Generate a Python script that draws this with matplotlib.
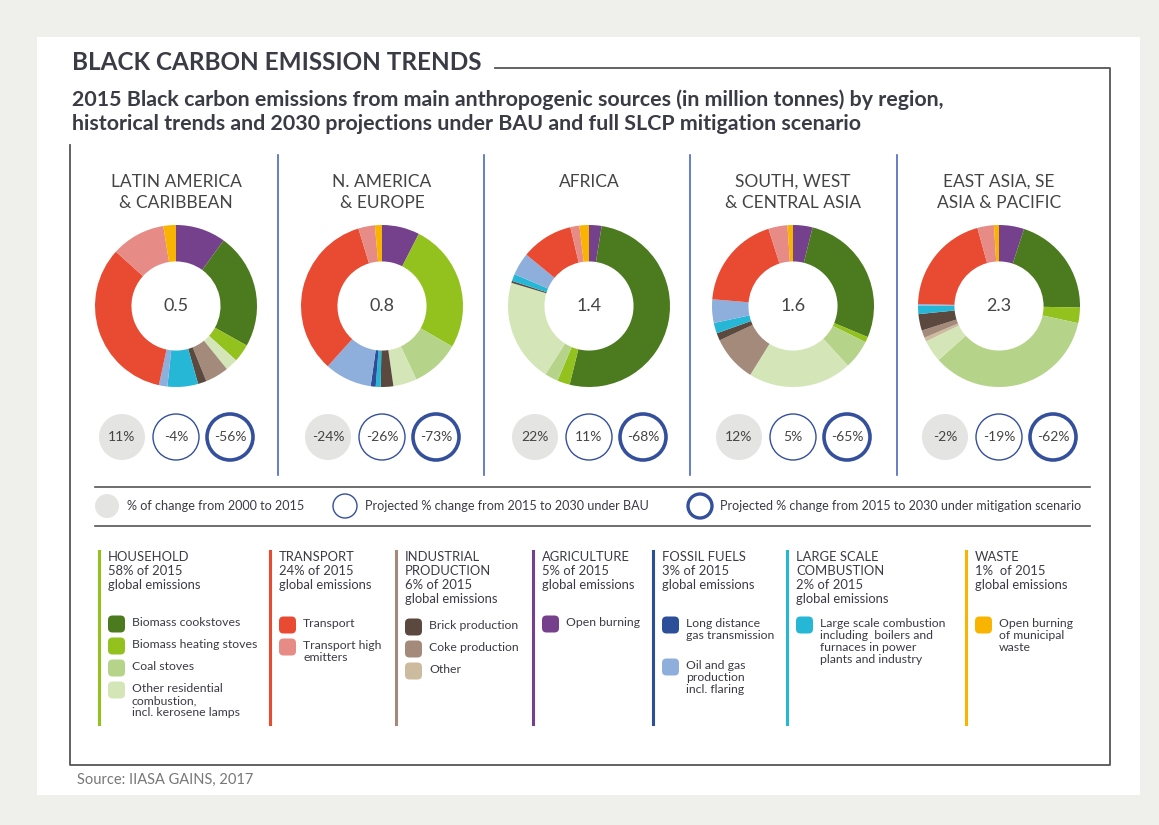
import matplotlib.pyplot as plt
from matplotlib.patches import Circle, FancyBboxPatch, Rectangle

plt.rcParams['font.family'] = ['Lato', 'DejaVu Sans']

# --- data ---------------------------------------------------------------
regions = ['LATIN AMERICA\n& CARIBBEAN', 'N. AMERICA\n& EUROPE', 'AFRICA',
           'SOUTH, WEST\n& CENTRAL ASIA', 'EAST ASIA, SE\nASIA & PACIFIC']
totals = ['0.5', '0.8', '1.4', '1.6', '2.3']
change_2000_2015 = ['11%', '-24%', '22%', '12%', '-2%']
change_bau = ['-4%', '-26%', '11%', '5%', '-19%']
change_mitigation = ['-56%', '-73%', '-68%', '-65%', '-62%']

# sources, in the clockwise order of the donuts (from 12 o'clock)
sources = ['Open burning', 'Biomass cookstoves', 'Biomass heating stoves', 'Coal stoves',
           'Other residential', 'Other industry', 'Coke production', 'Brick production',
           'Large scale combustion', 'Long distance gas transmission', 'Oil and gas production',
           'Transport', 'Transport high emitters', 'Waste']

# share of each source in the regional total (%)
share_latam  = [10.0, 23.1, 3.6, 0.0, 2.5, 0.0, 4.7, 1.7, 6.1, 0.0, 1.7, 33.3, 10.8, 2.5]
share_nameur = [7.5, 0.0, 25.8, 9.7, 4.7, 0.0, 0.0, 2.5, 1.0, 1.0, 9.4, 33.6, 3.3, 1.4]
share_africa = [2.5, 51.4, 2.5, 2.7, 20.6, 0.0, 0.0, 0.4, 1.4, 0.0, 4.5, 10.4, 1.8, 1.9]
share_swcasia = [3.9, 27.4, 1.1, 5.8, 20.7, 0.0, 9.2, 1.5, 2.1, 0.0, 4.7, 18.8, 3.8, 1.1]
share_easia  = [5.0, 20.3, 3.1, 35.0, 4.4, 0.8, 1.5, 3.3, 1.7, 0.0, 0.3, 20.3, 3.3, 1.0]
shares = [share_latam, share_nameur, share_africa, share_swcasia, share_easia]

# legend groups
group_heads = ['HOUSEHOLD\n58% of 2015\nglobal emissions',
               'TRANSPORT\n24% of 2015\nglobal emissions',
               'INDUSTRIAL\nPRODUCTION\n6% of 2015\nglobal emissions',
               'AGRICULTURE\n5% of 2015\nglobal emissions',
               'FOSSIL FUELS\n3% of 2015\nglobal emissions',
               'LARGE SCALE\nCOMBUSTION\n2% of 2015\nglobal emissions',
               'WASTE\n1%  of 2015\nglobal emissions']
group_items = [
    ['Biomass cookstoves', 'Biomass heating stoves', 'Coal stoves',
     'Other residential\ncombustion,\nincl. kerosene lamps'],
    ['Transport', 'Transport high\nemitters'],
    ['Brick production', 'Coke production', 'Other'],
    ['Open burning'],
    ['Long distance\ngas transmission', 'Oil and gas\nproduction\nincl. flaring'],
    ['Large scale combustion\nincluding  boilers and\nfurnaces in power\nplants and industry'],
    ['Open burning\nof municipal\nwaste'],
]

# --- styles -------------------------------------------------------------
src_colors = ['#76418c', '#4b7a1f', '#93c11e', '#b6d489', '#d4e6b8', '#cdbb9f', '#a38a7a',
              '#5b493f', '#27b7d6', '#2d4f9a', '#8eafdc', '#e84b32', '#e68b85', '#f8b400']
group_colors = ['#93c11e', '#e84b32', '#a38a7a', '#76418c', '#2d4f9a', '#27b7d6', '#f8b400']
item_colors = [['#4b7a1f', '#93c11e', '#b6d489', '#d4e6b8'], ['#e84b32', '#e68b85'],
               ['#5b493f', '#a38a7a', '#cdbb9f'], ['#76418c'], ['#2d4f9a', '#8eafdc'],
               ['#27b7d6'], ['#f8b400']]
item_y = [[624, 646, 668, 690], [625, 647], [627, 649, 671], [624], [625, 667], [625], [625]]
group_x = [99, 270, 396, 533, 653, 787, 966]

TXT = '#3b3b45'
BLUE = '#344f9c'
W, H = 1159, 825
centers = [176, 382, 589, 793, 999]
cy, R = 306, 81

fig = plt.figure(figsize=(W / 100, H / 100), dpi=100)
fig.patch.set_facecolor('#efefeb')
ax = fig.add_axes([0, 0, 1, 1])
ax.set_xlim(0, W)
ax.set_ylim(H, 0)
ax.axis('off')

ax.add_patch(Rectangle((37, 37), 1103, 758, facecolor='white', edgecolor='none'))
ax.plot([495, 1110, 1110, 70, 70], [68, 68, 765, 765, 145], color='#555555', lw=1.3)

ax.text(72, 63, 'BLACK CARBON EMISSION TRENDS', fontsize=17.5, fontweight='bold',
        color=TXT, va='center')
ax.text(72, 112, '2015 Black carbon emissions from main anthropogenic sources (in million tonnes) '
        'by region,\nhistorical trends and 2030 projections under BAU and full SLCP mitigation scenario',
        fontsize=15.4, fontweight='bold', color=TXT, va='center', linespacing=1.23)

# separators between regions
for x in [278, 484, 690, 897]:
    ax.plot([x, x], [155, 475], color='#4a68c0', lw=1.2)

for i, cx in enumerate(centers):
    if '\n' in regions[i]:
        ax.text(cx, 192.5, regions[i], ha='center', va='center', fontsize=12.5, color='#444444',
                linespacing=1.4)
    else:
        ax.text(cx, 182, regions[i], ha='center', va='center', fontsize=12.5, color='#444444')

    axp = fig.add_axes([(cx - R) / W, 1 - (cy + R) / H, 2 * R / W, 2 * R / H])
    axp.pie(shares[i], colors=src_colors, startangle=90, counterclock=False,
            wedgeprops=dict(width=0.45, linewidth=0))
    axp.set_xlim(-1, 1)
    axp.set_ylim(-1, 1)
    axp.text(0, 0, totals[i], ha='center', va='center', fontsize=13, color='#444444')

    ax.add_patch(Circle((cx - 54, 437), 23, facecolor='#e4e4e2', edgecolor='none'))
    ax.add_patch(Circle((cx, 437), 23, facecolor='white', edgecolor=BLUE, lw=1.0))
    ax.add_patch(Circle((cx + 54, 437), 23, facecolor='white', edgecolor=BLUE, lw=2.6))
    for dx, t in zip([-54, 0, 54], [change_2000_2015[i], change_bau[i], change_mitigation[i]]):
        ax.text(cx + dx, 437, t, ha='center', va='center', fontsize=10, color='#444444')

# key for the circles
ax.plot([95, 1090], [487, 487], color='#555555', lw=1.2)
ax.plot([95, 1090], [526, 526], color='#555555', lw=1.2)
ax.add_patch(Circle((107, 506), 12, facecolor='#e4e4e2', edgecolor='none'))
ax.add_patch(Circle((345, 506), 12, facecolor='white', edgecolor=BLUE, lw=1.0))
ax.add_patch(Circle((700, 506), 12, facecolor='white', edgecolor=BLUE, lw=2.4))
ax.text(127, 506, '% of change from 2000 to 2015', fontsize=9.1, color=TXT, va='center')
ax.text(365, 506, 'Projected % change from 2015 to 2030 under BAU', fontsize=9.1, color=TXT,
        va='center')
ax.text(720, 506, 'Projected % change from 2015 to 2030 under mitigation scenario', fontsize=9.0,
        color=TXT, va='center')

# source legend
for g, gx in enumerate(group_x):
    ax.plot([gx, gx], [551, 724], color=group_colors[g], lw=2.2)
    ax.text(gx + 9, 551, group_heads[g], fontsize=9.4, color=TXT, va='top', linespacing=1.2)
    for item, col, y in zip(group_items[g], item_colors[g], item_y[g]):
        ax.add_patch(FancyBboxPatch((gx + 9, y - 8.5), 17, 17,
                                    boxstyle='round,pad=0,rounding_size=4.5',
                                    facecolor=col, edgecolor='none'))
        ax.text(gx + 33, y - 7, item, fontsize=8.8, color=TXT, va='top', linespacing=1.12)

ax.text(77, 780, 'Source: IIASA GAINS, 2017', fontsize=10.5, color='#777777', va='center')

fig.savefig('out.png', dpi=100, facecolor=fig.get_facecolor())
